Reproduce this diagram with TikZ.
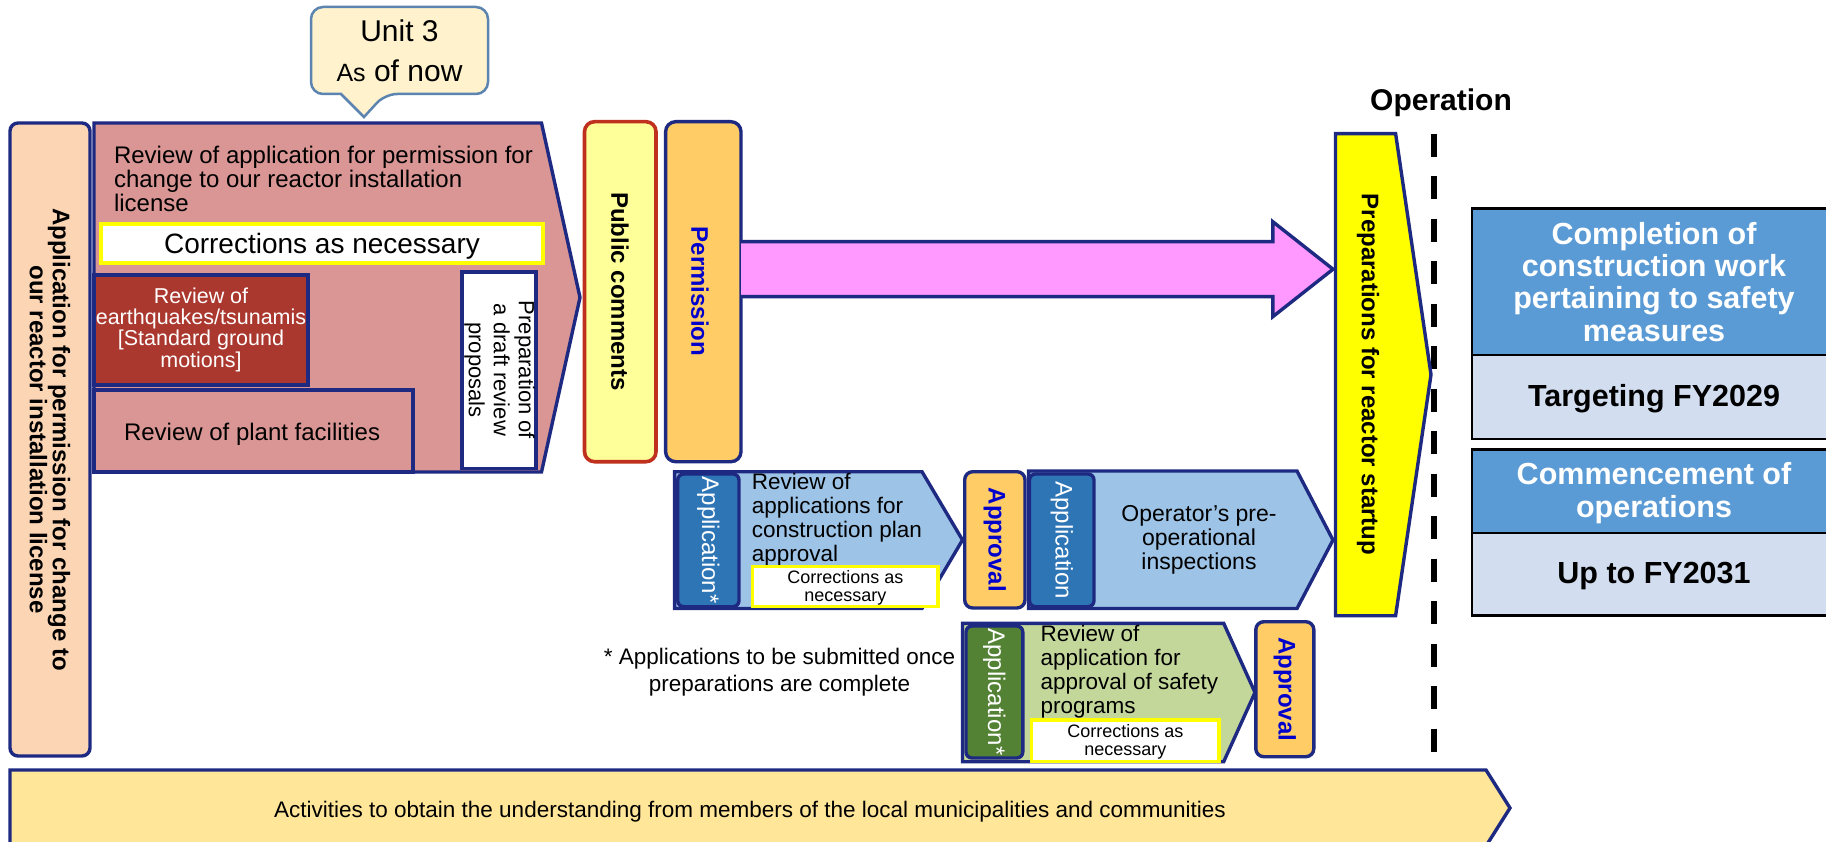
\documentclass[tikz,border=0pt]{standalone}
\usepackage{fontspec}
\setmainfont{Liberation Sans}
\definecolor{navy}{HTML}{1E2A82}
\definecolor{peach}{HTML}{FCD5B4}
\definecolor{rosy}{HTML}{D99694}
\definecolor{dkred}{HTML}{AB382F}
\definecolor{pcyel}{HTML}{FFFF99}
\definecolor{pcred}{HTML}{C0301E}
\definecolor{orng}{HTML}{FFCC66}
\definecolor{pinkar}{HTML}{FF99FF}
\definecolor{lblue}{HTML}{9DC3E6}
\definecolor{ablue}{HTML}{2E75B6}
\definecolor{lgreen}{HTML}{C4D79B}
\definecolor{agreen}{HTML}{548235}
\definecolor{banner}{HTML}{FFE699}
\definecolor{rblue}{HTML}{5B9BD5}
\definecolor{rlight}{HTML}{D2DEF0}
\definecolor{tblue}{HTML}{0000CC}
\definecolor{cfill}{HTML}{FFF2CC}
\definecolor{cborder}{HTML}{5B84B1}
\definecolor{yelb}{HTML}{FFFF00}
\newcommand\fs[2]{\fontsize{#1}{#2}\selectfont}
\tikzset{
  nv/.style={draw=navy, line width=3.4pt},
  blk/.style={draw=black, line width=2.6pt},
  yb/.style={draw=yelb, line width=4.5pt, fill=white},
  ys/.style={draw=yelb, line width=3.5pt, fill=white},
  t/.style={inner sep=0pt, outer sep=0pt},
}
\begin{document}
\begin{tikzpicture}[x=1pt,y=-1pt]
\useasboundingbox (0,0) rectangle (1826,842);
\clip (0,0) rectangle (1826,842);
\fill[white] (0,0) rectangle (1826,842);

% callout
\draw[draw=cborder, line width=2.5pt, fill=cfill] (311,50) [rounded corners=12pt] -- (311,7) -- (488,7) -- (488,94) -- (385,94) [sharp corners] -- (364,117) -- (341,94) [rounded corners=12pt] -- (311,94) -- cycle;
\node[t, anchor=base] (unit) at (399.5,41.7) {\fs{30}{30}Unit 3};
\node[t, anchor=base] (asof) at (399.5,81.7) {\fs{30}{30}{\fs{25}{30}As} of now};

% left tall box
\draw[nv, fill=peach, rounded corners=8pt] (10,123) rectangle (90,756);
\node[t, rotate=-90, align=center, font=\bfseries\fs{24}{23}] (lefttxt) at (50,439.5) {Application for permission for change to\\our reactor installation license};

% big review pentagon
\draw[nv, fill=rosy] (94,123) -- (541.5,123) -- (580,297.5) -- (541.5,472) -- (94,472) -- cycle;
\node[t, anchor=north west, align=left, font=\fs{24}{24.2}] (title) at (114,145.8) {Review of application for permission for\\change to our reactor installation\\license};
\draw[yb] (101,224) rectangle (543,263);
\node[t, anchor=base, font=\fs{28}{28}] (corr1) at (322,254) {Corrections as necessary};
\draw[nv, fill=dkred] (94,275) rectangle (308,385);
\node[t, anchor=north, align=center, text=white, font=\fs{21.5}{21.3}] (quake) at (201,287.8) {Review of\\earthquakes/tsunamis\\{[}Standard ground\\motions{]}};
\draw[nv, fill=rosy] (94,390) rectangle (413,472);
\node[t, anchor=base west, font=\fs{24}{24}] (plant) at (124,440) {Review of plant facilities};
\draw[nv, fill=white] (462,272) rectangle (536,468.5);
\node[t, rotate=-90, align=center, font=\fs{22}{25}] (draft) at (499.5,370) {Preparation of\\a draft review\\proposals};

% public comments / permission
\draw[draw=pcred, line width=3.6pt, fill=pcyel, rounded corners=10pt] (584.5,121.7) rectangle (656,461.7);
\node[t, rotate=-90, font=\bfseries\fs{24}{24}] (pc) at (620,291.5) {Public comments};
\draw[nv, fill=orng, rounded corners=10pt] (665.6,121.7) rectangle (741,461.7);
\node[t, rotate=-90, text=tblue, font=\bfseries\fs{24}{24}] (perm) at (700,291.5) {Permission};

% pink arrow
\fill[pinkar] (741,241.7) -- (1272.8,241.7) -- (1272.8,221.7) -- (1333,269.2) -- (1272.8,316.7) -- (1272.8,296.7) -- (741,296.7) -- cycle;
\draw[nv] (741,241.7) -- (1272.8,241.7) -- (1272.8,221.7) -- (1333,269.2) -- (1272.8,316.7) -- (1272.8,296.7) -- (741,296.7);

% operation line
\node[t, font=\bfseries\fs{30}{30}] (op) at (1441,103) {Operation};
\coordinate (dtop) at (1434,133.6);
\coordinate (dbot) at (1434,752);
\draw[line width=6pt, dash pattern=on 23pt off 19.5pt] (dtop) -- (dbot);

% yellow pentagon
\draw[nv, fill=yelb] (1335.5,133.6) -- (1395.6,133.6) -- (1431,374.6) -- (1395.6,615.7) -- (1335.5,615.7) -- cycle;
\node[t, rotate=-90, font=\bfseries\fs{24}{24}] (prep) at (1368,374.6) {Preparations for reactor startup};

% right boxes
\draw[blk, fill=rblue] (1471.8,208.6) rectangle (1840,355);
\draw[blk, fill=rlight] (1471.8,355) rectangle (1840,439);
\draw[blk, fill=rblue] (1471.8,449.6) rectangle (1840,532.9);
\draw[blk, fill=rlight] (1471.8,532.9) rectangle (1840,615.7);
\node[t, anchor=north, align=center, text=white, font=\bfseries\fs{30.5}{32.3}] (compl) at (1654,222) {Completion of\\construction work\\pertaining to safety\\measures};
\node[t, anchor=base, font=\bfseries\fs{30.5}{30}] (tgt) at (1654,406.8) {Targeting FY2029};
\node[t, anchor=north, align=center, text=white, font=\bfseries\fs{30.5}{32.5}] (comm) at (1654,462.5) {Commencement of\\operations};
\node[t, anchor=base, font=\bfseries\fs{30.5}{30}] (upto) at (1654,583.6) {Up to FY2031};

% row 1
\draw[nv, fill=lblue] (674.6,471.7) -- (922,471.7) -- (962.5,540) -- (922,608.5) -- (674.6,608.5) -- cycle;
\draw[nv, fill=ablue, rounded corners=6pt] (677.7,474) rectangle (739,606.7);
\node[t, rotate=-90, text=white, font=\fs{24}{24}] (app1) at (708.4,540.3) {Application*};
\node[t, anchor=north west, align=left, font=\fs{22.5}{24}] (rev1) at (751.8,473.6) {Review of\\applications for\\construction plan\\approval};
\draw[ys] (752.7,566.7) rectangle (938,606.7);
\node[t, anchor=north, align=center, font=\fs{18}{18.5}] (corr2) at (845.4,570) {Corrections as\\necessary};
\draw[nv, fill=orng, rounded corners=8pt] (964.7,471.7) rectangle (1025,608);
\node[t, rotate=-90, text=tblue, font=\bfseries\fs{24}{24}] (appr1) at (994.8,539.8) {Approval};
\draw[nv, fill=lblue] (1028.6,471) -- (1297,471) -- (1333,540) -- (1297,608.5) -- (1028.6,608.5) -- cycle;
\draw[nv, fill=ablue, rounded corners=6pt] (1029.5,474) rectangle (1094,606.7);
\node[t, rotate=-90, text=white, font=\fs{24}{24}] (app2) at (1061.7,540.3) {Application};
\node[t, anchor=north, align=center, font=\fs{23}{24.2}] (oper) at (1199,505) {Operator’s pre-\\operational\\inspections};

% footnote
\node[t, anchor=base, font=\fs{22.5}{27}] (fn1) at (779.5,664) {* Applications to be submitted once};
\node[t, anchor=base, font=\fs{22.5}{27}] (fn2) at (779.5,691) {preparations are complete};

% row 3
\draw[nv, fill=lgreen] (962.5,623.3) -- (1223.7,623.3) -- (1255,692.5) -- (1223.7,761.7) -- (962.5,761.7) -- cycle;
\draw[nv, fill=agreen, rounded corners=6pt] (966,626) rectangle (1022.8,758);
\node[t, rotate=-90, text=white, font=\fs{24}{24}] (app3) at (994.4,692) {Application*};
\node[t, anchor=north west, align=left, font=\fs{22.5}{24}] (rev3) at (1040.6,625.3) {Review of\\application for\\approval of safety\\programs};
\draw[ys] (1031.7,720) rectangle (1219,761.7);
\node[t, anchor=north, align=center, font=\fs{18}{18}] (corr3) at (1125.4,724) {Corrections as\\necessary};
\draw[nv, fill=orng, rounded corners=8pt] (1255.8,621.7) rectangle (1313.8,756.7);
\node[t, rotate=-90, text=tblue, font=\bfseries\fs{24}{24}] (appr2) at (1284.8,689.2) {Approval};

% banner
\draw[nv, fill=banner] (10,770) -- (1486,770) -- (1510,808) -- (1486,846) -- (10,846) -- cycle;
\node[t, anchor=base, font=\fs{22.5}{24}] (act) at (750,817) {Activities to obtain the understanding from members of the local municipalities and communities};
\end{tikzpicture}
\end{document}
